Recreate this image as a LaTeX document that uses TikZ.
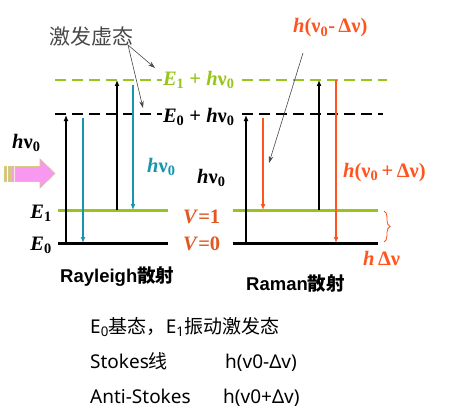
\documentclass[tikz,border=0pt]{standalone}
\usepackage{fontspec}
\setmainfont{Liberation Serif}
\newfontfamily\cjk{Noto Sans CJK SC}
\newfontfamily\arial{Liberation Sans}
\newfontfamily\nsans{Noto Sans}
\usetikzlibrary{arrows.meta,decorations.pathreplacing}
\definecolor{lgreen}{RGB}{152,196,28}
\definecolor{tealc}{RGB}{22,150,172}
\definecolor{ored}{RGB}{255,84,30}
\definecolor{vred}{RGB}{226,88,36}
\definecolor{pinkf}{RGB}{248,152,240}
\definecolor{pinkb}{RGB}{214,202,128}
\definecolor{gtext}{RGB}{72,72,72}
\tikzset{
  levelline/.style={line width=3pt},
  virt/.style={line width=2.8pt, dash pattern=on 11pt off 6pt},
  trans/.style={line width=2.2pt, -{Latex[length=6pt,width=5pt]}},
  pointer/.style={draw=gtext, line width=0.6pt, -{Stealth[length=7pt,width=4.5pt]}},
  mlab/.style={font=\fontsize{20.5}{24}\selectfont\bfseries, inner sep=0pt},
  cn/.style={font=\fontsize{19}{22}\selectfont\nsans, inner sep=0pt, anchor=base west},
  tit/.style={font=\fontsize{18.5}{22}\selectfont\arial\bfseries, inner sep=0pt, anchor=base west},
}
\begin{document}
\begin{tikzpicture}[x=1pt,y=-1pt]
\useasboundingbox[fill=white] (0,0) rectangle (462,417);
% level coordinates
\coordinate (l0a) at (58,243); \coordinate (l0b) at (168,243);
\coordinate (r0a) at (233,243); \coordinate (r0b) at (378,243);
\coordinate (l1a) at (58,210); \coordinate (l1b) at (168,210);
\coordinate (r1a) at (233,210); \coordinate (r1b) at (378,210);
\coordinate (v0a) at (55,114); \coordinate (v0b) at (383,114);
\coordinate (v1a) at (55,80); \coordinate (v1b) at (387,80);
% virtual levels
\draw[virt,lgreen] (v1a) -- (v1b);
\draw[virt,black] (v0a) -- (v0b);
% real levels
\draw[levelline,lgreen] (l1a) -- (l1b);
\draw[levelline,lgreen] (r1a) -- (r1b);
\draw[levelline,black] (l0a) -- (l0b);
\draw[levelline,black] (r0a) -- (r0b);
% transition end points
\coordinate (a1b) at (66,243);  \coordinate (a1t) at (66,115);
\coordinate (a2t) at (83,118);  \coordinate (a2b) at (83,243);
\coordinate (a3b) at (117,210); \coordinate (a3t) at (117,80);
\coordinate (a4t) at (133,85);  \coordinate (a4b) at (133,210);
\coordinate (b1b) at (246,243); \coordinate (b1t) at (246,115);
\coordinate (b2t) at (263,118); \coordinate (b2b) at (263,210);
\coordinate (b3b) at (319,210); \coordinate (b3t) at (319,80);
\coordinate (b4t) at (336,80);  \coordinate (b4b) at (336,243);
\draw[trans,black] (a1b) -- (a1t);
\draw[trans,tealc] (a2t) -- (a2b);
\draw[trans,black] (a3b) -- (a3t);
\draw[trans,tealc] (a4t) -- (a4b);
\draw[trans,black] (b1b) -- (b1t);
\draw[trans,ored] (b2t) -- (b2b);
\draw[trans,black] (b3b) -- (b3t);
\draw[trans,ored] (b4t) -- (b4b);
% virtual level labels
\node[mlab,text=lgreen,fill=white,anchor=base west,outer sep=0pt,inner xsep=1pt,inner ysep=1pt] (e1h) at (162,85)
  {\textit{E}\textsubscript{1} + \textit{h}ν\textsubscript{0}};
\node[mlab,text=black,fill=white,anchor=base west,outer sep=0pt,inner xsep=1pt,inner ysep=1pt] (e0h) at (162,122)
  {\textit{E}\textsubscript{0} + \textit{h}ν\textsubscript{0}};
% left labels
\node[mlab,anchor=base west] (hv0l) at (12,148) {\textit{h}ν\textsubscript{0}};
\node[mlab,anchor=base east] (E1l) at (52,218) {\textit{E}\textsubscript{1}};
\node[mlab,anchor=base east] (E0l) at (52,250) {\textit{E}\textsubscript{0}};
\node[mlab,anchor=base west,text=tealc] (hv0t) at (147,172) {\textit{h}ν\textsubscript{0}};
\node[mlab,anchor=base west] (hv0m) at (197,183) {\textit{h}ν\textsubscript{0}};
\node[mlab,anchor=base west,text=vred] (V1) at (183,223) {\textit{V}=1};
\node[mlab,anchor=base west,text=vred] (V0) at (183,250) {\textit{V}=0};
% Raman labels
\node[mlab,anchor=base west,text=ored] (stk) at (293,33) {\textit{h}(ν\textsubscript{0}-\,Δν)};
\node[mlab,anchor=base west,text=ored] (astk) at (343,177) {\textit{h}(ν\textsubscript{0}\,+\,Δν)};
\node[mlab,anchor=base west,text=ored] (hdv) at (363,265) {\textit{h}\,Δν};
\draw[ored,line width=0.8pt,decorate,decoration={brace,amplitude=6pt}] (384,211) -- (384,242);
% pointers
\node[font=\fontsize{21}{24}\selectfont\cjk,text=gtext,anchor=west,inner sep=0pt] (xf) at (49,37) {激发虚态};
\coordinate (xfp) at (128,45);
\coordinate (xfe1) at (155,68);
\coordinate (xfe0) at (143,108);
\draw[pointer] (xfp) -- (xfe1);
\draw[pointer] (xfp) -- (xfe0);
\coordinate (stkp) at (303,53);
\coordinate (stke) at (269,163);
\draw[pointer] (stkp) -- (stke);
% incident light arrow
\fill[pinkf,draw=pinkb,line width=0.7pt] (15,166.5) -- (40,166.5) -- (40,159) -- (55,173.5) -- (40,188) -- (40,181.5) -- (15,181.5) -- cycle;
\foreach \xx in {4,8,11.5}{
  \fill[pinkf,draw=pinkb,line width=0.6pt] (\xx,166.5) rectangle ++(2,15);
}
% titles
\node[tit] (ray) at (60,282) {Rayleigh{\cjk\bfseries 散射}};
\node[tit] (ram) at (246,290) {Raman{\cjk\bfseries 散射}};
% bottom notes
\node[cn] (n1) at (90,333) {E\textsubscript{0}{\cjk 基态，}E\textsubscript{1}{\cjk 振动激发态}};
\node[cn] (n2) at (90,368) {Stokes{\cjk 线}};
\node[cn] (n3) at (90,403) {Anti-Stokes};
\node[cn] (n2v) at (225,368) {h(v0-Δv)};
\node[cn] (n3v) at (223,403) {h(v0+Δv)};
\end{tikzpicture}
\end{document}
